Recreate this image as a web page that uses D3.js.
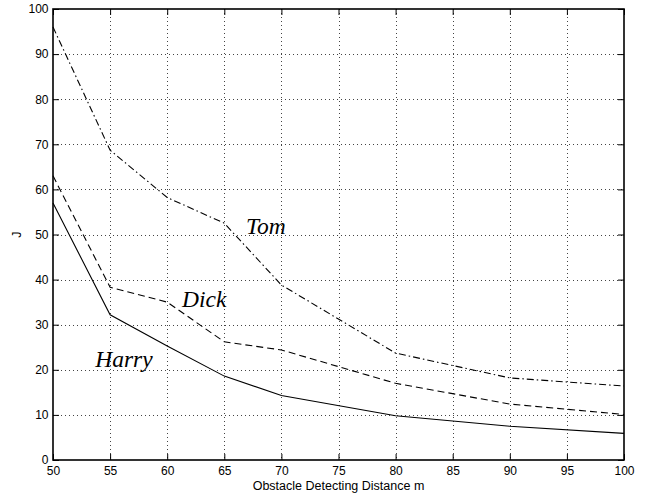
<!DOCTYPE html>
<html>
<head>
<meta charset="utf-8">
<script src="https://cdn.jsdelivr.net/npm/d3@7"></script>
<style>
  html, body { margin: 0; padding: 0; background: #fff; }
  svg { display: block; }
  .tick text { font-family: "Liberation Sans", Arial, Helvetica, sans-serif; font-size: 12px; fill: #000; }
</style>
</head>
<body>
<svg id="chart" width="649" height="494"></svg>
<script>
// Obstacle detecting distance (m) on the x axis
const distances = [50, 55, 60, 65, 70, 80, 90, 100];
// J for each configuration
const tomValues   = [96, 68.7, 58.2, 52.5, 38.8, 23.7, 18.2, 16.4];
const dickValues  = [63, 38.3, 35.0, 26.2, 24.4, 17.0, 12.4, 10.1];
const harryValues = [57, 32.2, 25.3, 18.6, 14.3, 9.8, 7.5, 5.9];

const xTicks = [50, 55, 60, 65, 70, 75, 80, 85, 90, 95, 100];
const yTicks = [0, 10, 20, 30, 40, 50, 60, 70, 80, 90, 100];

const seriesNames = ["Tom", "Dick", "Harry"];
// label anchor points in data units (x, J)
const labelX = [66.9, 61.3, 53.7];
const labelY = [50.1, 34.0, 20.7];

const W = 649, H = 494;
const margin = { top: 9, right: 25, bottom: 34, left: 53 };
const iw = W - margin.left - margin.right;
const ih = H - margin.top - margin.bottom;

const svg = d3.select("#chart");
const g = svg.append("g").attr("transform", `translate(${margin.left},${margin.top})`);

const x = d3.scaleLinear().domain([50, 100]).range([0, iw]);
const y = d3.scaleLinear().domain([0, 100]).range([ih, 0]);

// dotted grid
const grid = g.append("g").attr("stroke", "#444").attr("stroke-width", 1).attr("stroke-dasharray", "1,3");
grid.selectAll("line.vx").data(xTicks.slice(1, -1)).join("line")
  .attr("x1", d => Math.round(x(d)) + 0.5).attr("x2", d => Math.round(x(d)) + 0.5)
  .attr("y1", 0).attr("y2", ih);
grid.selectAll("line.hy").data(yTicks.slice(1, -1)).join("line")
  .attr("y1", d => Math.round(y(d)) + 0.5).attr("y2", d => Math.round(y(d)) + 0.5)
  .attr("x1", 0).attr("x2", iw);

// axes with inward ticks on all four sides
const tickLen = 6;
const styleAxis = sel => {
  sel.select(".domain").remove();
  sel.selectAll(".tick line").attr("stroke", "#000").attr("stroke-width", 1);
};
g.append("g").attr("transform", `translate(0,${ih})`)
  .call(d3.axisBottom(x).tickValues(xTicks).tickSizeInner(-tickLen).tickSizeOuter(0).tickPadding(6.5))
  .call(styleAxis);
g.append("g")
  .call(d3.axisLeft(y).tickValues(yTicks).tickSizeInner(-tickLen).tickSizeOuter(0).tickPadding(4.5))
  .call(styleAxis);
g.append("g")
  .call(d3.axisTop(x).tickValues(xTicks).tickSizeInner(-tickLen).tickSizeOuter(0).tickFormat(""))
  .call(styleAxis);
g.append("g").attr("transform", `translate(${iw},0)`)
  .call(d3.axisRight(y).tickValues(yTicks).tickSizeInner(-tickLen).tickSizeOuter(0).tickFormat(""))
  .call(styleAxis);

// plot box
g.append("rect").attr("x", 0).attr("y", 0).attr("width", iw).attr("height", ih)
  .attr("fill", "none").attr("stroke", "#000").attr("stroke-width", 1.6);

// series lines
const line = d3.line().x(d => x(d[0])).y(d => y(d[1]));
const seriesValues = [tomValues, dickValues, harryValues];
const dashes = ["7,3,1.5,3", "7,4", null];
seriesValues.forEach((vals, i) => {
  g.append("path")
    .datum(distances.map((d, k) => [d, vals[k]]))
    .attr("fill", "none").attr("stroke", "#000").attr("stroke-width", 1.1)
    .attr("stroke-dasharray", dashes[i])
    .attr("d", line);
});

// series names
g.selectAll("text.series").data(seriesNames).join("text")
  .attr("class", "series")
  .attr("x", (d, i) => x(labelX[i]))
  .attr("y", (d, i) => y(labelY[i]))
  .attr("font-family", "'Liberation Serif', 'Times New Roman', Times, serif")
  .attr("font-style", "italic")
  .attr("font-size", 23.5)
  .text(d => d);

// axis titles
svg.append("text")
  .attr("x", margin.left + iw / 2).attr("y", 490)
  .attr("text-anchor", "middle")
  .attr("font-family", "'Liberation Sans', Arial, Helvetica, sans-serif")
  .attr("font-size", 12.5)
  .text("Obstacle Detecting Distance m");
svg.append("text")
  .attr("transform", `translate(21,${margin.top + ih / 2}) rotate(-90)`)
  .attr("text-anchor", "middle")
  .attr("font-family", "'Liberation Sans', Arial, Helvetica, sans-serif")
  .attr("font-size", 12.5)
  .text("J");
</script>
</body>
</html>
